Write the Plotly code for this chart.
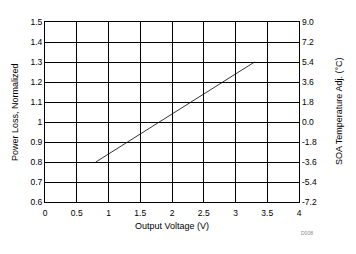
import plotly.graph_objects as go

# Data
output_voltage = [0.8, 3.3]
power_loss_norm = [0.8, 1.3]
# SOA temperature adjustment corresponding (right axis scale)
soa_temp_adj = [-3.6, 5.4]

x_ticks = [0, 0.5, 1, 1.5, 2, 2.5, 3, 3.5, 4]
y_ticks = [0.6, 0.7, 0.8, 0.9, 1.0, 1.1, 1.2, 1.3, 1.4, 1.5]
y2_ticks = [-7.2, -5.4, -3.6, -1.8, 0.0, 1.8, 3.6, 5.4, 7.2, 9.0]

FONT = "Liberation Sans, Arial, sans-serif"
fs = 8.5
tfs = 9

# plot area geometry (px)
L, R, T, B = 45, 57, 22, 52
W, H = 356, 254
pw, ph = W - L - R, H - T - B

def px_x(px):
    return (px - L) / pw

def px_y(py):
    return (H - B - py) / ph

fig = go.Figure()
fig.add_trace(go.Scatter(x=output_voltage, y=power_loss_norm, mode="lines",
                         line=dict(color="black", width=0.8), showlegend=False,
                         hoverinfo="skip"))
fig.add_trace(go.Scatter(x=output_voltage, y=soa_temp_adj, mode="lines",
                         line=dict(color="rgba(0,0,0,0)", width=0), yaxis="y2",
                         showlegend=False, hoverinfo="skip"))

axis_common = dict(showgrid=True, gridcolor="black", gridwidth=1,
                   showline=True, linecolor="black", linewidth=1,
                   zeroline=False, ticks="", tickfont=dict(family=FONT, size=fs, color="black"))

ann = dict(xref="paper", yref="paper", xanchor="center", yanchor="middle", showarrow=False)

fig.update_layout(
    width=W, height=H,
    margin=dict(l=L, r=R, t=T, b=B),
    paper_bgcolor="white", plot_bgcolor="white",
    font=dict(family=FONT, size=fs, color="black"),
    xaxis=dict(range=[0, 4], tickvals=x_ticks, mirror=True, ticklabelstandoff=3,
               **axis_common),
    yaxis=dict(range=[0.6, 1.5], tickvals=y_ticks, ticktext=[f"{v:g}" for v in y_ticks],
               mirror=True, **axis_common),
    yaxis2=dict(range=[-7.2, 9.0], tickvals=y2_ticks, ticktext=[f"{v:.1f}" for v in y2_ticks],
                overlaying="y", side="right", showgrid=False, zeroline=False,
                showline=False, ticks="", ticklabelstandoff=2,
                tickfont=dict(family=FONT, size=fs, color="black")),
    annotations=[
        dict(text="Output Voltage (V)", x=px_x(172), y=px_y(226),
             font=dict(family=FONT, size=tfs, color="black"), **ann),
        dict(text="Power Loss, Normalized", x=px_x(15), y=0.5, textangle=-90,
             font=dict(family=FONT, size=tfs, color="black"), **ann),
        dict(text="SOA Temperature Adj. (°C)", x=px_x(339), y=0.5, textangle=-90,
             font=dict(family=FONT, size=tfs, color="black"), **ann),
        dict(text="D008", x=px_x(307), y=px_y(233),
             font=dict(family=FONT, size=5, color="#888888"), **ann),
    ],
)

fig.write_html("out.html")
